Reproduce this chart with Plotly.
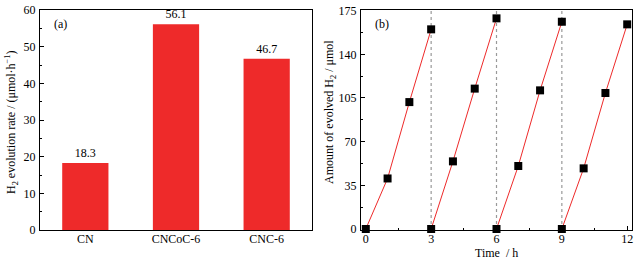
import plotly.graph_objects as go

categories = ["CN", "CNCoC-6", "CNC-6"]
rates = [18.3, 56.1, 46.7]
rate_labels = ["18.3", "56.1", "46.7"]

cycle_times = [[0, 1, 2, 3], [3, 4, 5, 6], [6, 7, 8, 9], [9, 10, 11, 12]]
cycle_values = [[0, 40.5, 101.7, 160.0], [0, 54.2, 112.5, 168.8],
                [0, 50.5, 111.1, 166.1], [0, 48.6, 109.0, 164.0]]
cycle_marks = [3, 6, 9]

FONT = "Liberation Serif, Times New Roman, serif"
FS = 12
fig = go.Figure()

fig.add_trace(go.Bar(x=categories, y=rates, text=rate_labels, textposition="outside",
                     textfont=dict(family=FONT, size=FS, color="black"),
                     marker=dict(color="#ee2a2a", line=dict(width=0)),
                     width=0.51, cliponaxis=False, xaxis="x", yaxis="y", showlegend=False))

for t, v in zip(cycle_times, cycle_values):
    fig.add_trace(go.Scatter(x=t, y=v, mode="lines+markers",
                             line=dict(color="#ee2a2a", width=1),
                             marker=dict(symbol="square", size=8, color="black"),
                             cliponaxis=False, xaxis="x2", yaxis="y2", showlegend=False))

for m in cycle_marks:
    fig.add_shape(type="line", xref="x2", yref="y2 domain", x0=m, x1=m, y0=0, y1=1,
                  line=dict(color="#999999", width=1.2, dash="dot"), layer="below")

axis_common = dict(showline=True, linecolor="black", linewidth=1.2, mirror=True,
                   showgrid=False, zeroline=False, ticks="inside", ticklen=4,
                   automargin=False, ticklabelstandoff=1,
                   tickcolor="black", tickfont=dict(family=FONT, size=FS, color="black"))
xaxis_common = {**axis_common, "ticklabelstandoff": -3}

y0, y1 = 1 - 230 / 261, 1 - 10 / 261
fig.update_layout(
    width=642, height=261, margin=dict(l=0, r=0, t=0, b=0, autoexpand=False),
    plot_bgcolor="white", paper_bgcolor="white",
    font=dict(family=FONT, size=FS, color="black"),
    xaxis=dict(domain=[40 / 642, 312 / 642], range=[-0.5, 2.5], anchor="y",
               **{**xaxis_common, "ticks": ""}),
    yaxis=dict(domain=[y0, y1], range=[0, 60], dtick=10, anchor="x",
               minor=dict(ticks="inside", ticklen=2, dtick=5, tickcolor="black"),
               **axis_common),
    xaxis2=dict(domain=[361 / 642, 632 / 642], range=[-0.22, 12.22], dtick=3, anchor="y2",
                minor=dict(ticks="inside", ticklen=2, dtick=1.5, tickcolor="black"),
                **xaxis_common),
    yaxis2=dict(domain=[y0, y1], range=[-0.8, 175.5], tickvals=[0, 35, 70, 105, 140, 175],
                anchor="x2",
                minor=dict(ticks="inside", ticklen=2, tickvals=[17.5, 52.5, 87.5, 122.5, 157.5],
                           tickcolor="black"),
                **axis_common),
    annotations=[
        dict(text="(a)", x=52 / 642, y=1 - 24 / 261, xref="paper", yref="paper",
             xanchor="left", yanchor="middle", showarrow=False, font=dict(family=FONT, size=FS)),
        dict(text="(b)", x=373 / 642, y=1 - 24 / 261, xref="paper", yref="paper",
             xanchor="left", yanchor="middle", showarrow=False, font=dict(family=FONT, size=FS)),
        dict(text="H<sub>2</sub> evolution rate / (μmol·h<sup>−1</sup>)", textangle=-90,
             x=12 / 642, y=1 - 122 / 261, xref="paper", yref="paper",
             xanchor="center", yanchor="middle", showarrow=False, font=dict(family=FONT, size=FS)),
        dict(text="Amount of evolved H<sub>2</sub> / μmol", textangle=-90,
             x=330 / 642, y=1 - 112 / 261, xref="paper", yref="paper",
             xanchor="center", yanchor="middle", showarrow=False, font=dict(family=FONT, size=FS)),
        dict(text="Time  / h", x=496 / 642, y=1 - 253 / 261, xref="paper", yref="paper",
             xanchor="center", yanchor="middle", showarrow=False, font=dict(family=FONT, size=FS)),
    ],
)

fig.write_html("out.html", config={"displayModeBar": False},
               post_script="document.body.style.margin='0';document.body.style.padding='0';")
